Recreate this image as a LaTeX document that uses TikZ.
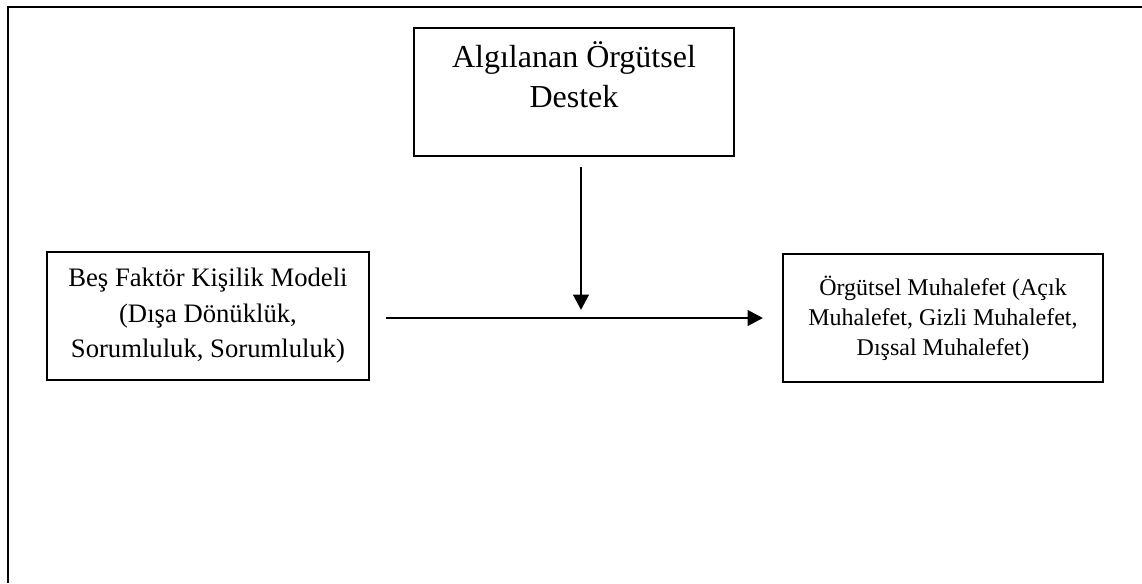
\documentclass[tikz,border=0pt]{standalone}
\usepackage{fontspec}
\setmainfont{Liberation Serif}
\usetikzlibrary{arrows.meta,positioning}

\tikzset{
  frameline/.style={line width=1.8pt,black},
  boxnode/.style={draw,line width=1.1pt,inner sep=0pt,align=center},
  flowarrow/.style={line width=2.2pt,-{Triangle[length=11.5pt,width=11.5pt]}},
}

\begin{document}
\begin{tikzpicture}[x=0.75pt,y=-0.75pt]
  \useasboundingbox (0,0) rectangle (1142,583);

  % open outer frame (left and top sides)
  \draw[frameline] (8,583) -- (8,7) -- (1142,7);

  % moderator box with its top-aligned title
  \node[boxnode,minimum width=240pt,minimum height=96pt] (destek) at (574,92) {};
  \node[align=center,inner sep=0pt,font=\fontsize{24}{30}\selectfont,
        below=10.8pt of destek.north] (destekText) {Algılanan Örgütsel\\Destek};

  % predictor and outcome boxes
  \node[boxnode,minimum width=241.5pt,minimum height=96pt,
        font=\fontsize{20}{26.6}\selectfont] (bes) at (208,316)
        {Beş Faktör Kişilik Modeli\\(Dışa Dönüklük,\\Sorumluluk, Sorumluluk)};
  \node[boxnode,minimum width=240pt,minimum height=96pt,
        font=\fontsize{18}{22.5}\selectfont] (muh) at (943,318)
        {Örgütsel Muhalefet (Açık\\Muhalefet, Gizli Muhalefet,\\Dışsal Muhalefet)};

  % free ends of the two arrows
  \coordinate (vStart) at (581,167);
  \coordinate (vEnd)   at (581,310);
  \coordinate (hStart) at (386,318);
  \coordinate (hEnd)   at (763,318);

  \draw[flowarrow] (vStart) -- (vEnd);
  \draw[flowarrow] (hStart) -- (hEnd);
\end{tikzpicture}
\end{document}
